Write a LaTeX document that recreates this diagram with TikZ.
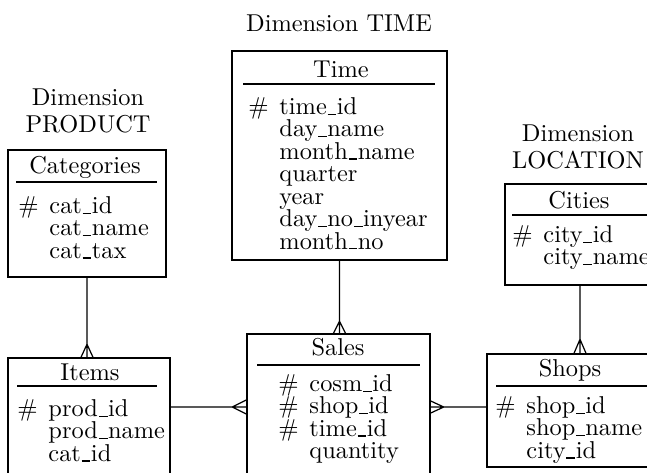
\documentclass[tikz,border=0pt]{standalone}
\usetikzlibrary{fit}
\newcommand{\pk}{\makebox[12.7pt][l]{\#}}
\newcommand{\nopk}{\makebox[12.7pt]{}}
\newcommand{\usc}{\kern.03em\rule[-0.1pt]{.36em}{.45pt}\kern.02em}
\begin{document}
\begin{tikzpicture}[
        x                   = 0.41pt,
        y                   = -0.41pt,
        entity/.style       = {draw, line width=0.6pt, inner sep=0pt},
        title/.style        = {font=\fontsize{10}{11}\selectfont},
        attrs/.style        = {anchor=north west, inner sep=0pt, align=left, font=\fontsize{10}{9.2}\selectfont},
        dimension/.style    = {align=center, font=\fontsize{10}{11}\selectfont},
        rule/.style         = {line width=0.5pt},
        link/.style         = {draw, line width=0.5pt},
      ]
        \useasboundingbox (0,0) rectangle (647,472);
        \clip (0,0) rectangle (647,472);

        % dimensions
        \node[dimension] (dim-time) at (339,23) {Dimension TIME};
        \node[dimension] (dim-product) at (88,111) {Dimension\\PRODUCT};
        \node[dimension] (dim-location) at (578,147) {Dimension\\LOCATION};

        % entities
        \node[entity, fit={(8,150) (166,277)}] (categories) {};
        \node[title] (categories-title) at (85,167) {Categories};
        \draw[rule] (16,182) -- (157,182);
        \node[attrs] (categories-attrs) at (18,196) {\pk cat\usc id\\ \nopk cat\usc name\\ \nopk cat\usc tax};

        \node[entity, fit={(232,51) (447,260)}] (time) {};
        \node[title] (time-title) at (341,69) {Time};
        \draw[rule] (243,84) -- (435,84);
        \node[attrs] (time-attrs) at (248,97) {\pk time\usc id\\ \nopk day\usc name\\ \nopk month\usc name\\ \nopk quarter\\ \nopk year\\ \nopk day\usc no\usc inyear\\ \nopk month\usc no};

        \node[entity, fit={(505,184) (655,285)}] (cities) {};
        \node[title] (cities-title) at (579,200) {Cities};
        \draw[rule] (512,215) -- (655,215);
        \node[attrs] (cities-attrs) at (512,225) {\pk city\usc id\\ \nopk city\usc name};

        \node[entity, fit={(8,358) (170,490)}] (items) {};
        \node[title] (items-title) at (90,372) {Items};
        \draw[rule] (17,386) -- (157,386);
        \node[attrs] (items-attrs) at (17,399) {\pk prod\usc id\\ \nopk prod\usc name\\ \nopk cat\usc id};

        \node[entity, fit={(247,334) (430,490)}] (sales) {};
        \node[title] (sales-title) at (338,347) {Sales};
        \draw[rule] (257,365) -- (420,365);
        \node[attrs] (sales-attrs) at (278,374) {\pk cosm\usc id\\ \pk shop\usc id\\ \pk time\usc id\\ \nopk quantity};

        \node[entity, fit={(487,354) (655,467)}] (shops) {};
        \node[title] (shops-title) at (570,370) {Shops};
        \draw[rule] (496,386) -- (655,386);
        \node[attrs] (shops-attrs) at (495,396) {\pk shop\usc id\\ \nopk shop\usc name\\ \nopk city\usc id};

        % links with crow's feet
        \coordinate (fact) at (0,407);
        \draw[link] (categories.south) -- (categories.south |- items.north)
                ++(-6,0) -- ++(6,-13) -- ++(6,13);
        \draw[link] (time.south) -- (time.south |- sales.north)
                ++(-6,0) -- ++(6,-12) -- ++(6,12);
        \draw[link] (cities.south) -- (cities.south |- shops.north)
                ++(-6,0) -- ++(6,-14) -- ++(6,14);
        \draw[link] (items.east |- fact) -- (sales.west |- fact)
                ++(0,-7) -- ++(-14,7) -- ++(14,7);
        \draw[link] (shops.west |- fact) -- (sales.east |- fact)
                ++(0,-6) -- ++(13,6) -- ++(-13,6);
    \end{tikzpicture}
\end{document}
